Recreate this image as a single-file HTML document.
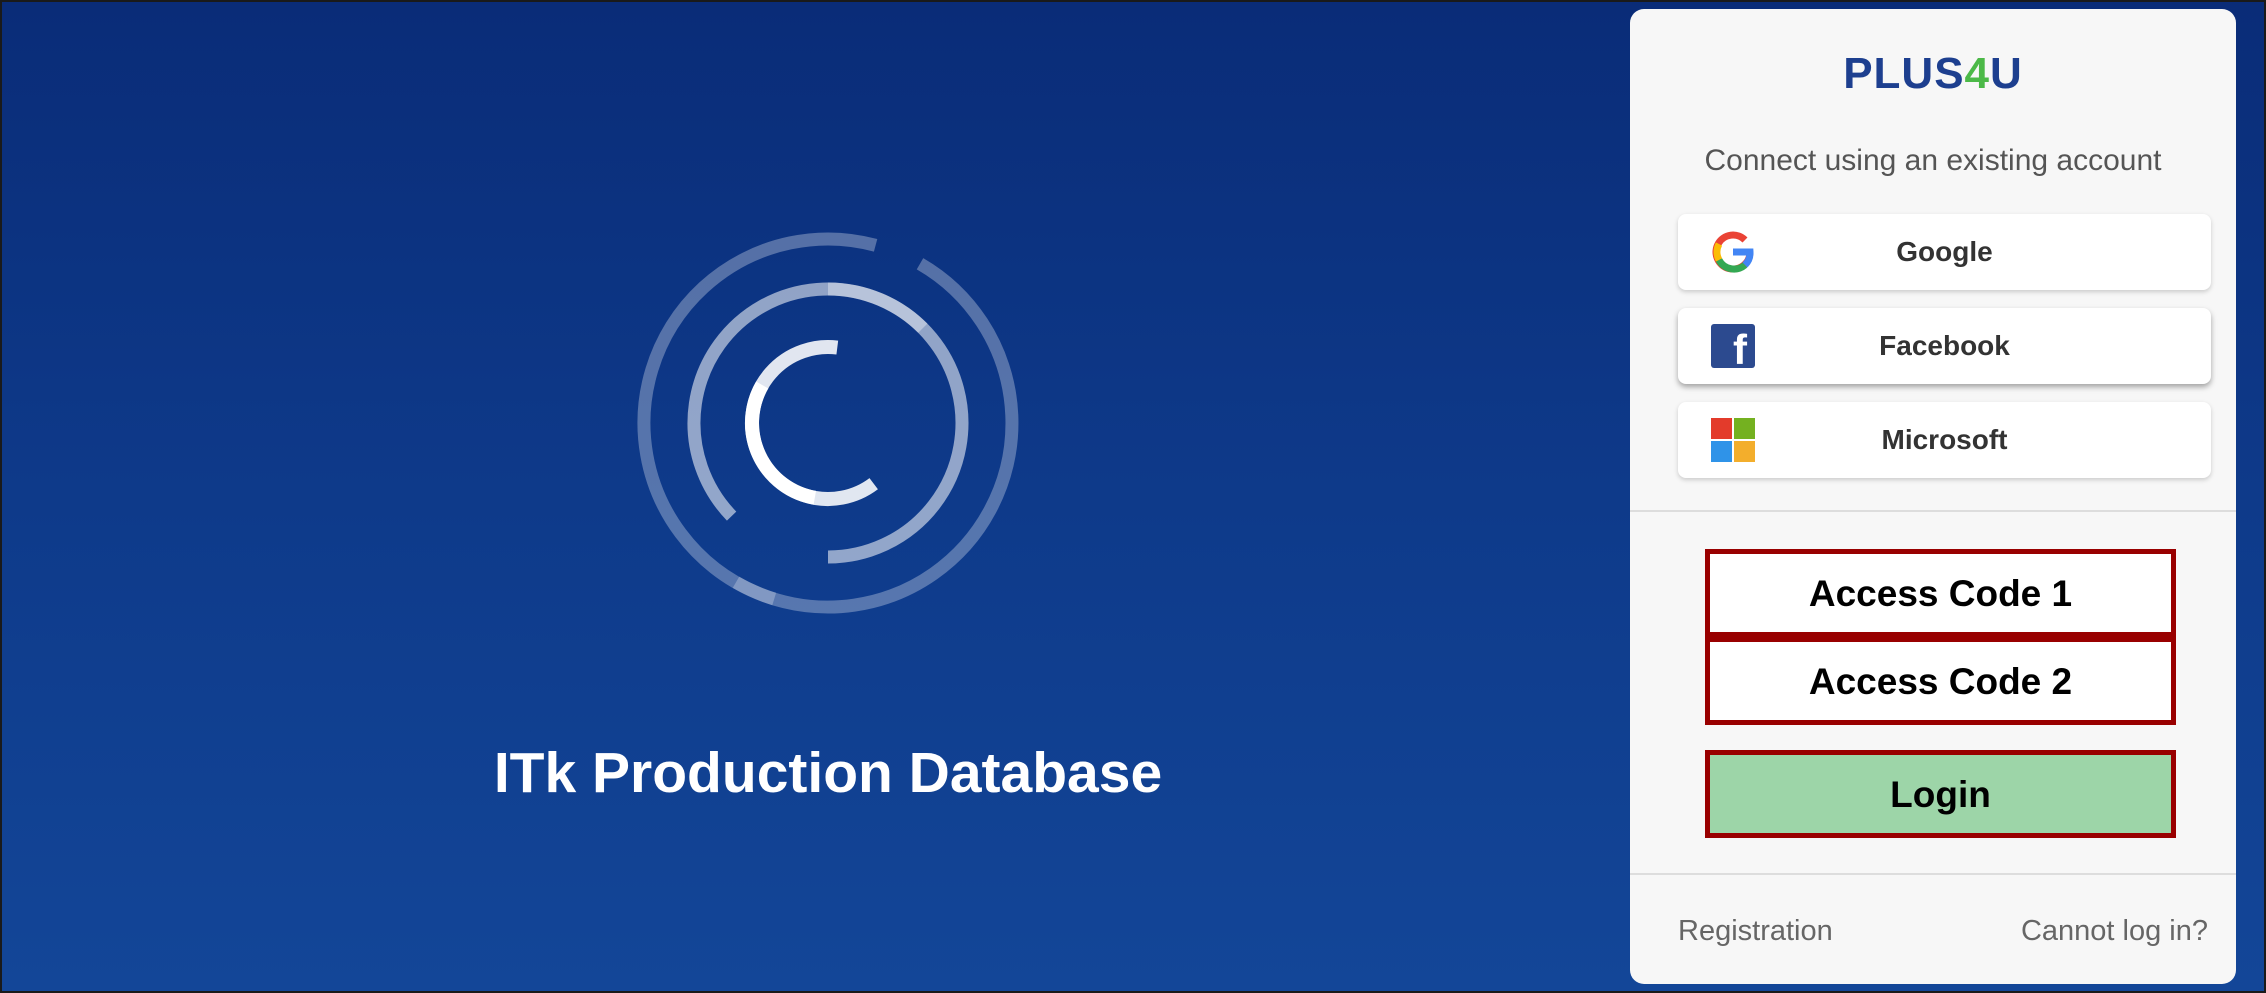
<!DOCTYPE html>
<html><head><meta charset="utf-8"><style>
*{margin:0;padding:0;box-sizing:border-box}
body{width:2266px;height:993px;overflow:hidden;position:relative;font-family:"Liberation Sans",sans-serif;
background:linear-gradient(180deg,#0a2c78 0%,#0e3a8a 50%,#134698 100%);}
.frame{position:absolute;left:0;top:0;width:2266px;height:993px;border:2px solid #1a1a1a;pointer-events:none}
.title{position:absolute;left:380px;width:896px;top:738px;text-align:center;color:#fff;font-weight:bold;font-size:57px;line-height:70px}
.panel{position:absolute;left:1630px;top:9px;width:606px;height:975px;background:#f7f7f7;border-radius:14px}
.logo{position:absolute;left:0;width:100%;top:40px;text-align:center;font-weight:bold;font-size:44px;color:#1d3f8f;letter-spacing:1px}
.logo span{color:#4cb948}
.sub{position:absolute;left:0;width:100%;top:135px;text-align:center;font-size:30px;color:#555}
.btn{position:absolute;left:48px;width:533px;height:76px;background:#fff;border-radius:8px;box-shadow:0 2px 5px rgba(0,0,0,.18);font-weight:bold;font-size:28px;color:#333;text-align:center;line-height:76px}
.btn .ic{position:absolute;left:33px;top:16px;width:44px;height:44px}
.hr{position:absolute;left:0;width:100%;height:2px;background:#ddd}
.box{position:absolute;left:75px;width:471px;height:88px;background:#fff;border:5px solid #990000;text-align:center;font-weight:bold;font-size:37px;line-height:80px;color:#000}
.link{position:absolute;top:906px;font-size:29px;color:#666}
</style></head><body>
<svg width="2266" height="993" style="position:absolute;left:0;top:0">
<g fill="none" stroke="#fff" stroke-linecap="butt">
<path d="M920,263.7 A184,184 0 1 1 875.6,245.3" stroke-width="13" stroke-opacity="0.3"/>
<path d="M774.2,599 A184,184 0 0 1 736,582.3" stroke-width="13" stroke-opacity="0.25"/>
<path d="M731.6,516.1 A134,134 0 1 1 828,557" stroke-width="13" stroke-opacity="0.55"/>
<path d="M828,289 A134,134 0 0 1 922.8,328.2" stroke-width="13" stroke-opacity="0.35"/>
<path d="M873.7,483.7 A76,76 0 1 1 837.3,347.6" stroke-width="14" stroke-opacity="0.88"/>
<path d="M814.8,497.8 A76,76 0 0 1 762.2,385" stroke-width="14" stroke-opacity="1"/>
</g></svg>
<div class="title">ITk Production Database</div>
<div class="panel">
<div class="logo">PLUS<span>4</span>U</div>
<div class="sub">Connect using an existing account</div>
<div class="btn" style="top:205px"><svg class="ic" viewBox="0 0 44 44">
<path d="M39,22 A17,17 0 1 1 34,10" fill="none" stroke="#ea4335" stroke-width="7"/>
<path d="M8,30 A17,17 0 0 1 8,14" fill="none" stroke="#fbbc05" stroke-width="7"/>
<path d="M8,30 A17,17 0 0 0 34,35" fill="none" stroke="#34a853" stroke-width="7"/>
<path d="M34,35 A17,17 0 0 0 39,22 L22,22" fill="none" stroke="#4285f4" stroke-width="7"/>
</svg>Google</div>
<div class="btn" style="top:299px;box-shadow:0 3px 6px rgba(0,0,0,.35)"><div class="ic" style="background:#2c4a8f;border-radius:3px;color:#fff;font-size:42px;line-height:52px;text-align:right;padding-right:8px">f</div>Facebook</div>
<div class="btn" style="top:393px"><svg class="ic" viewBox="0 0 44 44"><rect x="0" y="0" width="21" height="21" fill="#e33b2b"/><rect x="23" y="0" width="21" height="21" fill="#74b120"/><rect x="0" y="23" width="21" height="21" fill="#2f93e8"/><rect x="23" y="23" width="21" height="21" fill="#f3ae2c"/></svg>Microsoft</div>
<div class="hr" style="top:501px"></div>
<div class="box" style="top:540px">Access Code 1</div>
<div class="box" style="top:628px">Access Code 2</div>
<div class="box" style="top:741px;background:#9dd5a8">Login</div>
<div class="hr" style="top:864px"></div>
<div class="link" style="left:48px">Registration</div>
<div class="link" style="right:28px">Cannot log in?</div>
</div>
<div class="frame"></div>
</body></html>
